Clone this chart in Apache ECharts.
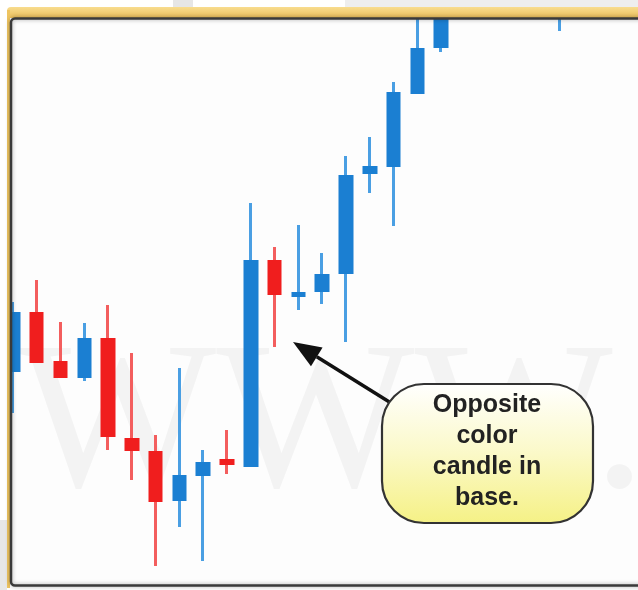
<!DOCTYPE html>
<html>
<head>
<meta charset="utf-8">
<style>
  html, body { margin: 0; padding: 0; background: #fff; }
  #chart { width: 638px; height: 590px; }
</style>
<script src="https://cdn.jsdelivr.net/npm/echarts@6/dist/echarts.min.js"></script>
</head>
<body>
<div id="chart"></div>
<script>
// Candle data ('-' = candle outside the visible frame)
const categories = ['1', '2', '3', '4', '5', '6', '7', '8', '9', '10', '11', '12',
    '13', '14', '15', '16', '17', '18', '19', '20', '21', '22', '23', '24'];
const opens  = [42.6, 54.6, 44.8, 41.4, 49.4, 29.4, 26.8, 16.8, 21.8, 25.2, 23.6, 65,
    57.6, 58.6, 62.2, 82.2, 83.6, 98.2, 107.4, '-', '-', '-', '-', 114];
const closes = [54.6, 44.4, 41.4, 49.4, 29.6, 26.8, 16.6, 22, 24.6, 24, 65, 58,
    58.6, 62.2, 82, 83.8, 98.6, 107.4, 118, '-', '-', '-', '-', 120];
const lows   = [34.4, 44.4, 41.4, 40.8, 27, 21, 3.8, 11.6, 4.8, 22.2, 23.6, 47.6,
    55, 56.2, 48.6, 78.4, 71.8, 98.2, 106.6, '-', '-', '-', '-', 110.8];
const highs  = [56.6, 61, 52.6, 52.4, 56, 46.4, 30, 43.4, 27, 31, 76.4, 67.6,
    72, 66.4, 85.8, 89.6, 100.6, 116, 122, '-', '-', '-', '-', 123];

const noteLines = ['Opposite', 'color', 'candle in', 'base.'];

// ECharts candlestick order: [open, close, lowest, highest]
const ohlc = categories.map((c, i) => [opens[i], closes[i], lows[i], highs[i]]);

const UP = '#1b7fd2', DOWN = '#f01e1e';
const UP_WICK = '#4a9fe3', DOWN_WICK = '#f35e5e';

const chart = echarts.init(document.getElementById('chart'));

// Arrow: tip near the red candle's lower wick, tail at the callout
const tip = [293, 342], tail = [391, 403];
const len = Math.hypot(tail[0] - tip[0], tail[1] - tip[1]);
const ux = (tip[0] - tail[0]) / len, uy = (tip[1] - tail[1]) / len;
const headLen = 28, headHalf = 11;
const bx = tip[0] - ux * headLen, by = tip[1] - uy * headLen;
const arrowHead = [tip, [bx - uy * headHalf, by + ux * headHalf], [bx + uy * headHalf, by - ux * headHalf]];

const option = {
    animation: false,
    backgroundColor: '#ffffff',
    grid: { left: 1, top: 20, width: 571, height: 565 },
    xAxis: {
        type: 'category',
        data: categories,
        show: false,
        boundaryGap: true
    },
    yAxis: {
        type: 'value',
        min: 0,
        max: 113,
        show: false
    },
    series: [
        {
            // wicks
            name: 'wick',
            type: 'candlestick',
            data: ohlc,
            barWidth: 1,
            z: 3,
            itemStyle: {
                color: UP_WICK, color0: DOWN_WICK,
                borderColor: UP_WICK, borderColor0: DOWN_WICK,
                borderWidth: 3
            }
        },
        {
            // bodies
            name: 'body',
            type: 'candlestick',
            data: ohlc,
            barWidth: 15,
            z: 4,
            itemStyle: {
                color: UP, color0: DOWN,
                borderColor: 'rgba(0,0,0,0)', borderColor0: 'rgba(0,0,0,0)',
                borderWidth: 0
            }
        }
    ],
    graphic: [
        // inner background + watermark
        { type: 'rect', z: 0, silent: true, shape: { x: 11, y: 19, width: 640, height: 566 }, style: { fill: '#fdfdfd' } },
        {
            type: 'text', z: 1, silent: true, left: 18, top: 326,
            style: { text: 'WWW.', font: '210px "Liberation Serif", serif', fill: '#f3f3f3' }
        },
        // outside bits
        { type: 'rect', z: 19, silent: true, shape: { x: 0, y: 0, width: 7, height: 590 }, style: { fill: '#ffffff' } },
        { type: 'rect', z: 19, silent: true, shape: { x: 0, y: 520, width: 7, height: 70 }, style: { fill: '#e7e7e7' } },
        { type: 'rect', z: 19, silent: true, shape: { x: 173, y: 0, width: 20, height: 7 }, style: { fill: '#e6e6e6' } },
        { type: 'rect', z: 19, silent: true, shape: { x: 345, y: 0, width: 293, height: 7 }, style: { fill: '#eeeeee' } },
        // gold frame
        {
            type: 'rect', z: 20, silent: true,
            shape: { x: 7, y: 7, width: 640, height: 11, r: [4, 0, 0, 0] },
            style: {
                fill: new echarts.graphic.LinearGradient(0, 0, 0, 1, [
                    { offset: 0, color: '#f8dc8e' },
                    { offset: 1, color: '#ecc05c' }
                ])
            }
        },
        { type: 'rect', z: 20, silent: true, shape: { x: 7, y: 10, width: 3, height: 578 }, style: { fill: '#eec461' } },
        // dark inner frame line
        {
            type: 'rect', z: 21, silent: true,
            shape: { x: 11, y: 18.5, width: 640, height: 567, r: 4 },
            style: { fill: null, stroke: '#3a3a3a', lineWidth: 2.5, shadowBlur: 4, shadowColor: 'rgba(0,0,0,0.35)' }
        },
        // arrow
        {
            type: 'line', z: 30, silent: true,
            shape: { x1: tail[0], y1: tail[1], x2: bx, y2: by },
            style: { stroke: '#111', lineWidth: 3.5 }
        },
        {
            type: 'polygon', z: 30, silent: true,
            shape: { points: arrowHead },
            style: { fill: '#111' }
        },
        // callout box
        {
            type: 'rect', z: 30, silent: true,
            shape: { x: 382, y: 384, width: 211, height: 139, r: 42 },
            style: {
                fill: new echarts.graphic.LinearGradient(0, 0, 0, 1, [
                    { offset: 0, color: '#ffffff' },
                    { offset: 0.5, color: '#fbf9c8' },
                    { offset: 1, color: '#f5f185' }
                ]),
                stroke: '#333',
                lineWidth: 2.2
            }
        },
        {
            type: 'text', z: 31, silent: true,
            x: 487, y: 452,
            style: {
                text: noteLines.join('\n'),
                font: 'bold 25px "Liberation Sans", Arial, sans-serif',
                fill: '#222',
                align: 'center',
                verticalAlign: 'middle',
                lineHeight: 31
            }
        }
    ]
};

chart.setOption(option);
</script>
</body>
</html>
